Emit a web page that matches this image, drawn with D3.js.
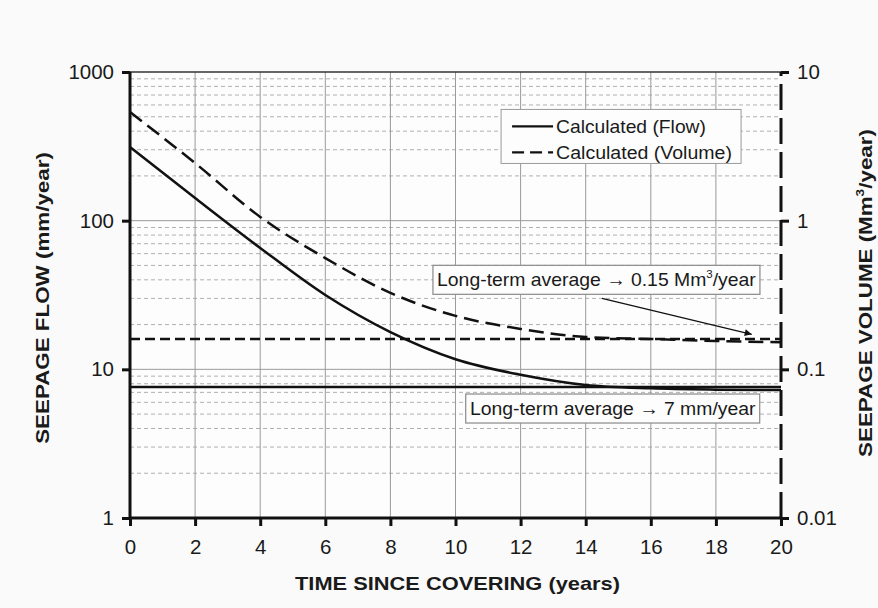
<!DOCTYPE html>
<html><head><meta charset="utf-8">
<script src="https://cdn.jsdelivr.net/npm/d3@7"></script>
<style>
html,body{margin:0;padding:0;background:#fafafa;}
text{font-family:"Liberation Sans",Arial,sans-serif;fill:#1a1a1a;}
</style></head>
<body>
<svg id="c" width="878" height="608"></svg>
<script>
// ---- data ----
const years = [0, 2, 4, 6, 8, 10, 12, 14, 16, 18, 20];
const flow = [313, 142, 65.5, 31.6, 17.8, 11.7, 9.2, 7.85, 7.45, 7.3, 7.25];          // mm/year (left axis)
const volume = [5.38, 2.44, 1.06, 0.56, 0.327, 0.229, 0.187, 0.165, 0.160, 0.155, 0.152]; // Mm3/year (right axis)
const flowAverage = 7.6;
const volumeAverage = 0.16;
const xTicks = [0, 2, 4, 6, 8, 10, 12, 14, 16, 18, 20];
const leftTicks = [1, 10, 100, 1000];
const rightTicks = [0.01, 0.1, 1, 10];
const legendLabels = ["Calculated (Flow)", "Calculated (Volume)"];

// ---- layout ----
const svg = d3.select("#c");
const m = {l: 130, r: 97, t: 72, b: 90};
const W = 878, H = 608;
const x = d3.scaleLinear().domain([0, 20]).range([m.l, W - m.r]);
const yL = d3.scaleLog().domain([1, 1000]).range([H - m.b, m.t]);
const yR = d3.scaleLog().domain([0.01, 10]).range([H - m.b, m.t]);

// stretch a text element along its own direction to a target length
function fitText(sel, target) {
  const w = sel.node().getBBox().width;
  const s = target / w;
  const base = sel.attr("transform") || "";
  sel.attr("transform", base + ` scale(${s},1)`);
}

const g = svg.append("g");
g.append("rect").attr("x", x(0)).attr("y", yL(1000)).attr("width", x(20) - x(0)).attr("height", yL(1) - yL(1000)).attr("fill", "#fdfdfd");

// minor horizontal dashed gridlines
const minors = [];
for (let d = 1; d < 1000; d *= 10) for (let k = 2; k <= 9; k++) minors.push(d * k);
g.selectAll(".minor").data(minors).join("line")
  .attr("x1", x(0)).attr("x2", x(20)).attr("y1", d => yL(d)).attr("y2", d => yL(d))
  .attr("stroke", "#b0b0b0").attr("stroke-width", 1).attr("stroke-dasharray", "4,3");
g.selectAll(".major").data([10, 100]).join("line")
  .attr("x1", x(0)).attr("x2", x(20)).attr("y1", d => yL(d)).attr("y2", d => yL(d))
  .attr("stroke", "#9a9a9a").attr("stroke-width", 1);
g.selectAll(".vg").data(xTicks.slice(1, -1)).join("line")
  .attr("x1", d => x(d)).attr("x2", d => x(d)).attr("y1", yL(1)).attr("y2", yL(1000))
  .attr("stroke", "#9a9a9a").attr("stroke-width", 1);
g.append("line").attr("x1", x(0)).attr("x2", x(20)).attr("y1", yL(1000)).attr("y2", yL(1000))
  .attr("stroke", "#333").attr("stroke-width", 1.5);

// averages
g.append("line").attr("x1", x(0)).attr("x2", x(20)).attr("y1", yR(volumeAverage)).attr("y2", yR(volumeAverage))
  .attr("stroke", "#111").attr("stroke-width", 2.5).attr("stroke-dasharray", "10,5");
g.append("line").attr("x1", x(0)).attr("x2", x(20)).attr("y1", yL(flowAverage)).attr("y2", yL(flowAverage))
  .attr("stroke", "#111").attr("stroke-width", 2.5);

// curves
const lineL = d3.line().x((d, i) => x(years[i])).y(d => yL(d)).curve(d3.curveMonotoneX);
const lineR = d3.line().x((d, i) => x(years[i])).y(d => yR(d)).curve(d3.curveMonotoneX);
g.append("path").attr("d", lineL(flow)).attr("fill", "none").attr("stroke", "#111").attr("stroke-width", 2.5);
g.append("path").attr("d", lineR(volume)).attr("fill", "none").attr("stroke", "#111").attr("stroke-width", 2.5).attr("stroke-dasharray", "15,7");

// axes
const axL = g.append("g").attr("transform", `translate(${x(0)},0)`)
  .call(d3.axisLeft(yL).tickValues(leftTicks).tickFormat(d3.format("d")).tickSize(8).tickPadding(8));
const axB = g.append("g").attr("transform", `translate(0,${yL(1)})`)
  .call(d3.axisBottom(x).tickValues(xTicks).tickFormat(d3.format("d")).tickSize(8).tickPadding(13));
const axR = g.append("g").attr("transform", `translate(${x(20)},0)`)
  .call(d3.axisRight(yR).tickValues(rightTicks).tickFormat(d => d3.format("~g")(d)).tickSize(8).tickPadding(8));
[axL, axB, axR].forEach(a => {
  a.selectAll("text").attr("font-size", 20.5).style("fill", "#1a1a1a");
  a.selectAll(".tick line").attr("stroke", "#111").attr("stroke-width", 3);
  a.select(".domain").attr("stroke", "#111").attr("stroke-width", 3);
});
axL.select(".domain").attr("d", `M0,${yL(1)}V${yL(1000)}`);
axB.select(".domain").attr("d", `M${x(0)},0H${x(20)}`);
axR.select(".domain").attr("d", `M0,${yR(0.01)}V${yR(10)}`).attr("stroke-dasharray", "26,8");

// axis titles
const bt = svg.append("text").attr("transform", `translate(${(x(0) + x(20)) / 2 + 2},590)`).attr("text-anchor", "middle")
  .attr("font-size", 18).attr("font-weight", "bold").text("TIME SINCE COVERING (years)");
fitText(bt, 325);
const lt = svg.append("text").attr("transform", `translate(49,${(yL(1) + yL(1000)) / 2 + 3}) rotate(-90)`).attr("text-anchor", "middle")
  .attr("font-size", 18).attr("font-weight", "bold").text("SEEPAGE FLOW (mm/year)");
fitText(lt, 292);
const rt = svg.append("text").attr("transform", `translate(872,${(yL(1) + yL(1000)) / 2 - 2}) rotate(-90)`).attr("text-anchor", "middle")
  .attr("font-size", 18).attr("font-weight", "bold");
rt.append("tspan").text("SEEPAGE VOLUME (Mm");
rt.append("tspan").attr("font-size", 11).attr("dy", -8).text("3");
rt.append("tspan").attr("dy", 8).text("/year)");
fitText(rt, 328);

// legend
const lg = svg.append("g").attr("transform", `translate(${x(11.4)},${yL(560)})`);
lg.append("rect").attr("width", 240).attr("height", 54).attr("fill", "#fdfdfd").attr("stroke", "#9a9a9a").attr("stroke-width", 1);
legendLabels.forEach((t, i) => {
  const yy = 17 + i * 26;
  lg.append("line").attr("x1", 11).attr("x2", 52).attr("y1", yy).attr("y2", yy).attr("stroke", "#111").attr("stroke-width", 2.2)
    .attr("stroke-dasharray", i ? "12,6" : null);
  const tt = lg.append("text").attr("transform", `translate(55,${yy + 6.5})`).attr("font-size", 18.5).text(t);
  fitText(tt, i ? 176 : 150);
});

// annotations
function labelBox(cx, cy, target, build) {
  const gg = svg.append("g");
  const r = gg.append("rect");
  const t = gg.append("text").attr("transform", `translate(${cx},${cy + 6.5})`).attr("text-anchor", "middle").attr("font-size", 18.5);
  build(t);
  fitText(t, target);
  r.attr("x", cx - target / 2 - 4).attr("y", cy - 14.5).attr("width", target + 8).attr("height", 29)
    .attr("fill", "#fdfdfd").attr("stroke", "#8a8a8a").attr("stroke-width", 1.2);
}
labelBox(x(14.33), yL(40), 319, t => {
  t.append("tspan").text("Long-term average \u2192 0.15 Mm");
  t.append("tspan").attr("font-size", 11).attr("dy", -8).text("3");
  t.append("tspan").attr("dy", 8).text("/year");
});
labelBox(x(14.83), yL(5.45), 286, t => { t.text("Long-term average \u2192 7 mm/year"); });

// arrow
svg.append("defs").append("marker").attr("id", "ah").attr("viewBox", "0 0 10 10").attr("refX", 10).attr("refY", 5)
  .attr("markerWidth", 9).attr("markerHeight", 7).attr("markerUnits", "userSpaceOnUse").attr("orient", "auto")
  .append("path").attr("d", "M0,0L10,5L0,10z").attr("fill", "#111");
svg.append("line").attr("x1", x(14.5)).attr("y1", yR(0.30)).attr("x2", x(19.1)).attr("y2", yR(0.172))
  .attr("stroke", "#111").attr("stroke-width", 1.2).attr("marker-end", "url(#ah)");
</script>
</body></html>
